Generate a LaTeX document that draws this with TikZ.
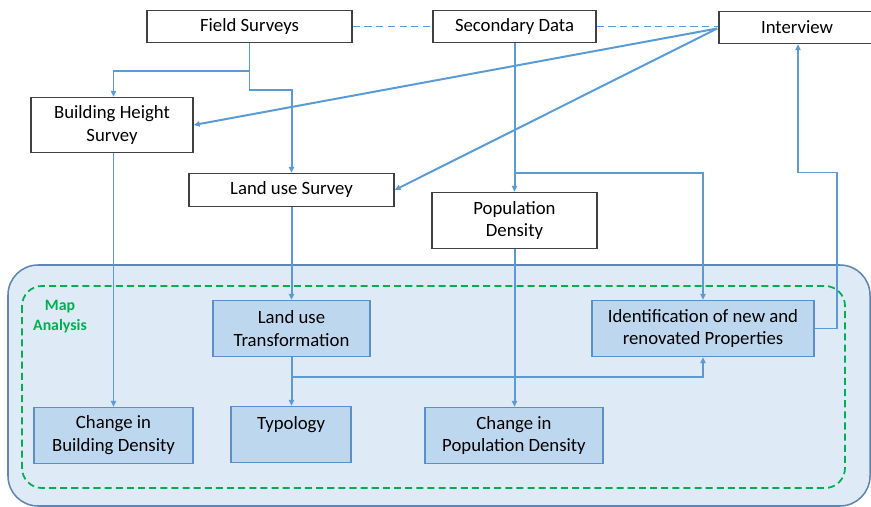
\documentclass[tikz,border=0pt]{standalone}
\usepackage{fontspec}
\setmainfont{Carlito}
\usetikzlibrary{arrows,arrows.meta}
\usetikzlibrary{calc}
\definecolor{lineblue}{HTML}{5B9BD5}
\definecolor{boxgray}{HTML}{404040}
\definecolor{mapfill}{HTML}{BDD7EE}
\definecolor{mapedge}{HTML}{5B8FC9}
\definecolor{panelfill}{HTML}{DEEAF6}
\definecolor{paneledge}{HTML}{5F86B3}
\definecolor{mapgreen}{HTML}{00B050}
\tikzset{>=latex}
\tikzstyle{flow} = [line width = 1.7pt, color = lineblue]
\tikzstyle{arr}  = [flow, -{Triangle[length=5pt, width=4.5pt]}]
\tikzstyle{link} = [flow, dash pattern = on 6pt off 4pt]
\tikzstyle{srcbox} = [%
					draw = boxgray, line width = 1.3pt,
					fill = white, align = center, inner sep = 0pt
					]
\tikzstyle{mapbox} = [%
					draw = mapedge, line width = 1.3pt,
					fill = mapfill, align = center, inner sep = 0pt
					]
\tikzset{wh/.style 2 args={minimum width=#1*0.03cm, minimum height=#2*0.03cm}}

\begin{document}
\begin{tikzpicture}[x=0.03cm, y=-0.03cm, font=\fontsize{16}{19.5}\selectfont]
    % picture is laid out in pixel units, y pointing down
    \useasboundingbox (0,0) rectangle (871,507);

    % Map analysis panel
    \draw[line width=1.3pt, draw=paneledge, fill=panelfill, rounded corners=0.9cm] (8,265) rectangle (870,506);
    \draw[line width=1.5pt, draw=mapgreen, dash pattern=on 6pt off 3.5pt, rounded corners=0.6cm] (22,286) rectangle (845,488);
    \node[text=mapgreen, font=\fontsize{13.5}{17}\selectfont\bfseries, align=center] (maplabel) at (60,317) {Map\\Analysis};

    % Data sources
    \node[srcbox, wh={205}{32}] (field)     at (249.5,26.5) {Field Surveys};
    \node[srcbox, wh={163}{32}] (second)    at (514.5,26.5) {Secondary Data};
    \node[srcbox, wh={156}{32}] (interview) at (797,27.5)   {Interview};

    % Surveys
    \node[srcbox, wh={162}{55}] (bhs)  at (112,125)  {Building Height\\Survey};
    \node[srcbox, wh={205}{33}] (lus)  at (291.5,190) {Land use Survey};
    \node[srcbox, wh={165}{56}] (popd) at (514.5,220.5)  {Population\\Density};

    % Analysis results
    \node[mapbox, wh={157}{56}] (lut)   at (291.5,328.5) {Land use\\Transformation};
    \node[mapbox, wh={222}{56}] (ident) at (703,328.5)   {Identification of new and\\renovated Properties};
    \node[mapbox, wh={159}{56}] (cbd)   at (113.5,435.5) {Change in\\Building Density};
    \node[mapbox, wh={120}{56}] (typo)  at (291,434.5)   {Typology\\\mbox{}};
    \node[mapbox, wh={178}{56}] (cpd)   at (514,435.5)   {Change in\\Population Density};

    % links between the sources
    \draw[link] (field.east) -- (second.west);
    \draw[link] (second.east) -- (second.east -| interview.west);

    % field surveys
    \draw[arr] (field.south) -- ++(0,28) -| (cbd.north |- bhs.north);
    \draw[arr] (field.south) -- ++(0,47) -| (lut.north |- lus.north);

    % interview
    \draw[arr] ($(interview.west)+(-1,1)$) -- (bhs.east);
    \draw[arr] ($(interview.west)+(-1,1)$) -- (lus.east);
    \draw[arr] (ident.east) -| ++(22,-156) coordinate (back) -| ($(interview.south)+(1,0)$);

    % secondary data
    \draw[arr] (second.south) -- (popd.north);
    \draw[arr] ($(second.south)+(0,130)$) -| (ident.north);

    % down into the map analysis
    \draw[arr] (cbd.north |- bhs.south) -- (cbd.north);
    \draw[arr] (lut.north |- lus.south) -- (lut.north);
    \draw[arr] (lut.south) -- (lut.south |- typo.north);
    \draw[arr] (lut.south) -- ++(0,20) -| (ident.south);
    \draw[arr] (popd.south) -- (popd.south |- cpd.north);

\end{tikzpicture}
\end{document}
